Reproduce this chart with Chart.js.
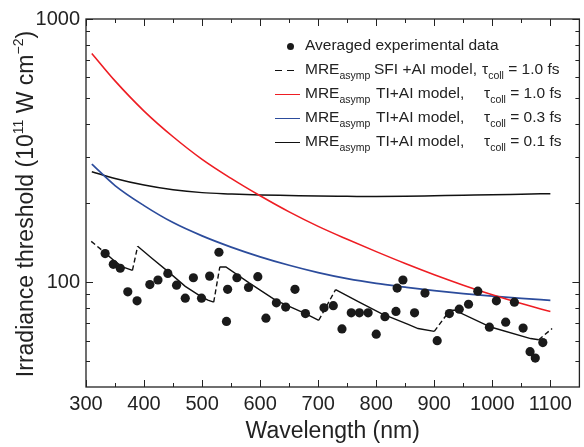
<!DOCTYPE html>
<html><head><meta charset="utf-8">
<script src="https://cdn.jsdelivr.net/npm/chart.js@4/dist/chart.umd.min.js"></script>
<style>
html,body{margin:0;padding:0;background:#fff;}
#wrap{position:relative;width:584px;height:447px;font-family:"Liberation Sans",Arial,sans-serif;color:#222;overflow:hidden;}
#c{position:absolute;left:0;top:0;}
.ytitle{position:absolute;left:0;top:0;width:408px;height:28px;line-height:28px;text-align:center;font-size:23px;white-space:nowrap;transform-origin:0 0;transform:translate(11px,408px) rotate(-90deg);}
.ytitle sup{font-size:14px;vertical-align:baseline;position:relative;top:-10px;}
.lg{position:absolute;font-size:15.5px;white-space:nowrap;line-height:18px;height:18px;}
.lg sub{font-size:10.5px;vertical-align:baseline;position:relative;top:5px;}
.mk{position:absolute;height:0;}
.dot{position:absolute;border-radius:50%;background:#1a1a1a;}
</style>
</head><body>
<div id="wrap">
<canvas id="c" width="584" height="447"></canvas>
<div class="ytitle">Irradiance threshold (10<sup>11</sup> W cm<sup>−2</sup>)</div>
<div id="legend"></div>
</div>
<script>
// ---- data ----
const expX = [333, 347, 359, 372, 388, 410, 424, 441, 456, 471, 485, 499, 513, 529, 542, 544, 560, 580, 596, 610, 628, 644, 660, 678, 710, 726, 741, 757, 771, 786, 800, 815, 834, 836, 846, 866, 884, 905, 926, 943, 959, 975, 995, 1007, 1023, 1038, 1053, 1065, 1074, 1087];
const expY = [128.5, 117, 113, 92, 85, 98, 102, 108, 97.5, 87, 104, 87, 105.5, 130, 71, 94, 104, 95.5, 105, 73, 83.5, 80.5, 94, 76, 80, 81.5, 66.5, 76.5, 76.5, 76.5, 63.5, 74, 77.5, 95, 102, 76.5, 91, 60, 76, 79, 82.5, 92.5, 67.5, 85, 70.5, 84, 67, 54.5, 51.5, 59];

const sfiX = [309, 330, 349, 363, 380, 389, 414, 441, 456, 471, 499, 510, 520, 530.5, 541, 581, 627, 678, 701, 730, 769, 809, 855, 872, 900, 927, 935, 997, 1066, 1080, 1103];
const sfiY = [143, 131, 120.5, 114.3, 111, 137, 123, 110, 103, 96.5, 88, 85.5, 84, 114.3, 114.3, 99.4, 85.4, 76, 71.7, 93.8, 84.4, 76, 69.2, 66.7, 65.1, 78.3, 78.3, 67.6, 61.1, 60.5, 66.7];

const curveX = [310, 350, 400, 450, 500, 550, 600, 650, 700, 750, 800, 850, 900, 950, 1000, 1050, 1100];
const tau10Y = [740, 582, 447, 357, 293, 248, 213, 185, 163, 145.6, 130.7, 117.8, 106.8, 97.5, 89.6, 83, 77.4];
const tau03Y = [281, 233, 195.5, 168.5, 150, 136, 124.9, 116, 108.8, 103.2, 99, 95.8, 92.9, 90.5, 88.5, 86.8, 85.4];
const tau01Y = [263, 248, 234, 224.5, 219, 216.5, 214.5, 213.5, 212.5, 212, 211.5, 212, 213, 214, 215, 216, 217];

const xMajorTicks = [300, 400, 500, 600, 700, 800, 900, 1000, 1100];
const xMinorTicks = [350, 450, 550, 650, 750, 850, 950, 1050];
const yMajorTicks = [100, 1000];
const yMinorTicks = [50, 60, 70, 80, 90, 200, 300, 400, 500, 600, 700, 800, 900];

const seriesNames = ['Averaged experimental data', 'SFI +AI model,', 'TI+AI model,', 'TI+AI model,', 'TI+AI model,'];
const seriesTau = ['', '1.0', '1.0', '0.3', '0.1'];
const seriesColors = ['#1a1a1a', '#111111', '#ee1d23', '#2c4c9c', '#111111'];

const FONT = '"Liberation Sans", Arial, sans-serif';
const pts = (xs, ys) => xs.map((x, i) => ({x: x, y: ys[i]}));

const framePlugin = {
  id: 'frame',
  afterDatasetsDraw(chart) {
    const {ctx, chartArea: a, scales: {x, y}} = chart;
    ctx.save();
    ctx.strokeStyle = '#222';
    ctx.lineWidth = 1.3;
    ctx.strokeRect(a.left, a.top, a.right - a.left, a.bottom - a.top);
    ctx.lineWidth = 1;
    ctx.beginPath();
    const xt = (v, len) => {
      const p = Math.round(x.getPixelForValue(v)) + 0.5;
      ctx.moveTo(p, a.bottom); ctx.lineTo(p, a.bottom - len);
      ctx.moveTo(p, a.top); ctx.lineTo(p, a.top + len);
    };
    const yt = (v, len) => {
      const p = Math.round(y.getPixelForValue(v)) + 0.5;
      ctx.moveTo(a.left, p); ctx.lineTo(a.left + len, p);
      ctx.moveTo(a.right, p); ctx.lineTo(a.right - len, p);
    };
    xMajorTicks.forEach(v => xt(v, 7));
    xMinorTicks.forEach(v => xt(v, 4));
    yMajorTicks.forEach(v => yt(v, 7));
    yMinorTicks.forEach(v => yt(v, 4));
    ctx.stroke();
    ctx.restore();
  }
};

new Chart(document.getElementById('c'), {
  type: 'scatter',
  data: {
    datasets: [
      {label: seriesNames[0], data: pts(expX, expY), showLine: false, pointRadius: 4.6, pointBackgroundColor: seriesColors[0], pointBorderWidth: 0},
      {label: seriesNames[1], data: pts(sfiX, sfiY), showLine: true, pointRadius: 0, borderColor: seriesColors[1], borderWidth: 1.4, tension: 0,
        segment: {borderDash: c => (c.p1.parsed.y > c.p0.parsed.y || c.p0DataIndex === 0) ? [5, 3] : undefined}},
      {label: seriesNames[2], data: pts(curveX, tau10Y), showLine: true, pointRadius: 0, borderColor: seriesColors[2], borderWidth: 1.6, cubicInterpolationMode: 'monotone'},
      {label: seriesNames[3], data: pts(curveX, tau03Y), showLine: true, pointRadius: 0, borderColor: seriesColors[3], borderWidth: 1.7, cubicInterpolationMode: 'monotone'},
      {label: seriesNames[4], data: pts(curveX, tau01Y), showLine: true, pointRadius: 0, borderColor: seriesColors[4], borderWidth: 1.5, cubicInterpolationMode: 'monotone'}
    ]
  },
  options: {
    responsive: false, animation: false, devicePixelRatio: 1,
    layout: {padding: {top: 19, right: 2, left: 0, bottom: 0}},
    plugins: {legend: {display: false}, tooltip: {enabled: false}},
    scales: {
      x: {
        type: 'linear', min: 300, max: 1150,
        afterBuildTicks: s => { s.ticks = xMajorTicks.map(v => ({value: v})); },
        afterFit: s => { s.height = 60; },
        grid: {display: false, drawTicks: false}, border: {display: false},
        ticks: {padding: 5, color: '#222', font: {size: 20, family: FONT}, maxRotation: 0, autoSkip: false, callback: v => String(v)},
        title: {display: true, text: 'Wavelength (nm)', color: '#222', font: {size: 23, family: FONT}, padding: {top: 0, bottom: 2}}
      },
      y: {
        type: 'logarithmic', min: 40, max: 1000,
        afterBuildTicks: s => { s.ticks = yMajorTicks.map(v => ({value: v, major: true})); },
        afterFit: s => { s.width = 86; },
        grid: {display: false, drawTicks: false}, border: {display: false},
        ticks: {padding: 6, color: '#222', font: {size: 20, family: FONT}, autoSkip: false, callback: v => String(v)}
      }
    }
  },
  plugins: [framePlugin]
});

// legend (HTML so sub-scripts are real text)
(function () {
  const lg = document.getElementById('legend');
  const rowY = [46, 70, 94, 118, 142];
  let html = '';
  rowY.forEach((yc, i) => {
    if (i === 0) {
      html += `<div class="dot" style="left:${290 - 3.5}px;top:${yc - 3.5}px;width:7px;height:7px;"></div>`;
      html += `<div class="lg" style="left:305px;top:${yc - 10}px">${seriesNames[0]}</div>`;
      return;
    }
    if (i === 1) {
      html += `<div class="mk" style="left:275px;width:7px;top:${yc}px;border-top:1.4px solid ${seriesColors[1]}"></div>`;
      html += `<div class="mk" style="left:287px;width:7px;top:${yc}px;border-top:1.4px solid ${seriesColors[1]}"></div>`;
    } else {
      html += `<div class="mk" style="left:275px;width:25px;top:${yc}px;border-top:1.5px solid ${seriesColors[i]}"></div>`;
    }
    html += `<div class="lg" style="left:305px;top:${yc - 10}px">MRE<sub>asymp</sub></div>`;
    html += `<div class="lg" style="left:${i === 1 ? 374 : 376}px;top:${yc - 10}px">${seriesNames[i]}</div>`;
    html += `<div class="lg" style="left:${i === 1 ? 482 : 484}px;top:${yc - 10}px">τ<sub>coll</sub> = ${seriesTau[i]} fs</div>`;
  });
  lg.innerHTML = html;
})();
</script>
</body></html>
